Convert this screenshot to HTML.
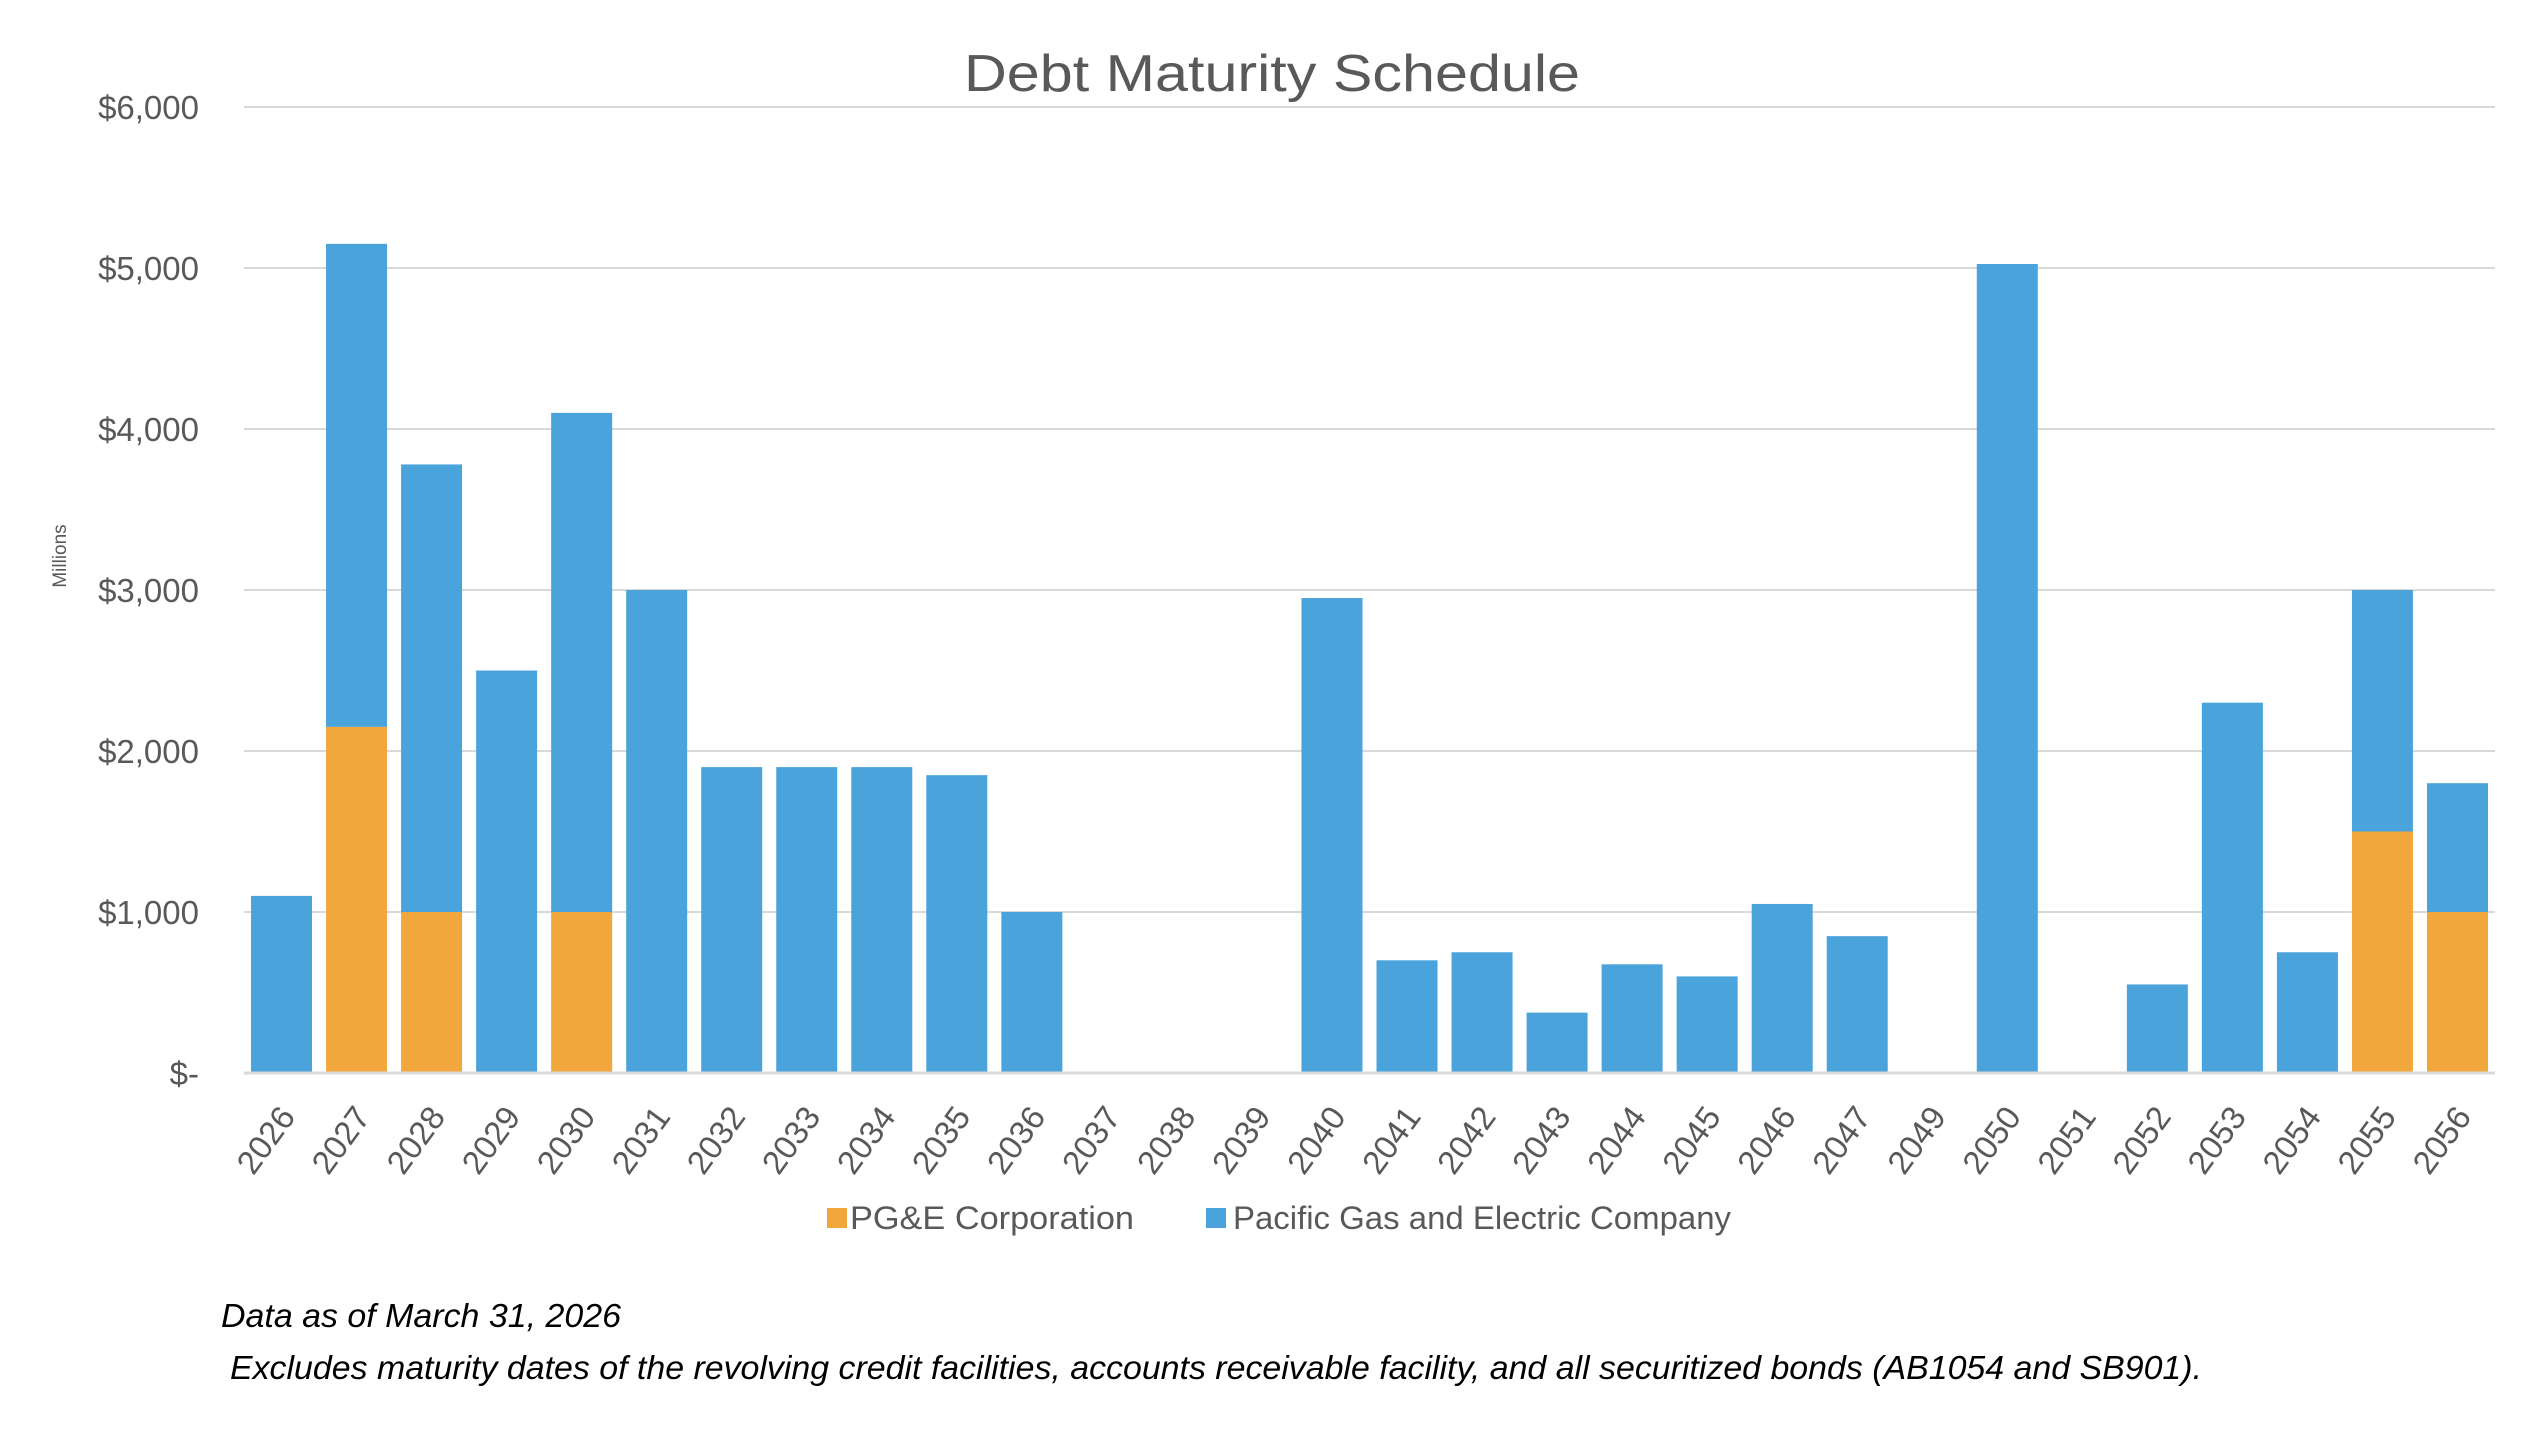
<!DOCTYPE html>
<html><head><meta charset="utf-8"><style>html,body{margin:0;padding:0;background:#fff}svg{display:block}</style></head>
<body>
<svg id="c" width="2544" height="1430" viewBox="0 0 2544 1430" xmlns="http://www.w3.org/2000/svg" font-family="Liberation Sans, sans-serif">
<text x="1272" y="91" text-anchor="middle" font-size="52" fill="#595959" textLength="616" lengthAdjust="spacingAndGlyphs">Debt Maturity Schedule</text>
<g stroke="#d9d9d9" stroke-width="2">
<line x1="244" x2="2495" y1="107" y2="107"/><line x1="244" x2="2495" y1="268" y2="268"/><line x1="244" x2="2495" y1="429" y2="429"/><line x1="244" x2="2495" y1="590" y2="590"/><line x1="244" x2="2495" y1="751" y2="751"/><line x1="244" x2="2495" y1="912" y2="912"/>
</g>
<g font-size="33" fill="#595959" text-anchor="end">
<text x="199" y="119">$6,000</text><text x="199" y="280">$5,000</text><text x="199" y="441">$4,000</text><text x="199" y="602">$3,000</text><text x="199" y="763">$2,000</text><text x="199" y="924">$1,000</text><text x="199" y="1085">$-</text>
</g>
<text transform="translate(66,556) rotate(-90)" text-anchor="middle" font-size="19" fill="#595959">Millions</text>
<g id="bars"></g>
<line x1="244" x2="2495" y1="1073" y2="1073" stroke="#d9d9d9" stroke-width="3"/>
<g id="labels" font-size="33" fill="#595959"></g>
<rect x="827" y="1208" width="20" height="20" fill="#F2A73D"/>
<text x="850" y="1229" font-size="32" fill="#595959" textLength="284" lengthAdjust="spacingAndGlyphs">PG&amp;E Corporation</text>
<rect x="1206" y="1208" width="20" height="20" fill="#4AA3DA"/>
<text x="1233" y="1229" font-size="32" fill="#595959" textLength="498" lengthAdjust="spacingAndGlyphs">Pacific Gas and Electric Company</text>
<text x="221" y="1327" font-size="33" font-style="italic" fill="#000" textLength="400" lengthAdjust="spacingAndGlyphs">Data as of March 31, 2026</text>
<text x="230" y="1379" font-size="33" font-style="italic" fill="#000" textLength="1972" lengthAdjust="spacingAndGlyphs">Excludes maturity dates of the revolving credit facilities, accounts receivable facility, and all securitized bonds (AB1054 and SB901).</text>
</svg>
<script>
var d=[["2026",0,1100],["2027",2150,5150],["2028",1000,3780],["2029",0,2500],["2030",1000,4100],["2031",0,3000],["2032",0,1900],["2033",0,1900],["2034",0,1900],["2035",0,1850],["2036",0,1000],["2037",0,0],["2038",0,0],["2039",0,0],["2040",0,2950],["2041",0,700],["2042",0,750],["2043",0,375],["2044",0,675],["2045",0,600],["2046",0,1050],["2047",0,850],["2049",0,0],["2050",0,5025],["2051",0,0],["2052",0,550],["2053",0,2300],["2054",0,750],["2055",1500,3000],["2056",1000,1800]];
var ns="http://www.w3.org/2000/svg",b=document.getElementById("bars"),l=document.getElementById("labels");
var cw=(2495-244)/30,k=0.161;
d.forEach(function(r,i){var cx=244+cw*(i+0.5),x=cx-30.5,w=61;
function rect(y0,y1,c){if(y1<=y0)return;var e=document.createElementNS(ns,"rect");e.setAttribute("x",x);e.setAttribute("width",w);e.setAttribute("y",1073-y1*k);e.setAttribute("height",(y1-y0)*k);e.setAttribute("fill",c);b.appendChild(e);}
rect(0,r[1],"#F2A73D");rect(r[1],r[2],"#4AA3DA");
var t=document.createElementNS(ns,"text");t.setAttribute("text-anchor","end");t.setAttribute("transform","translate("+(cx+15)+",1117) rotate(-54)");t.textContent=r[0];l.appendChild(t);});
</script>
</body></html>
